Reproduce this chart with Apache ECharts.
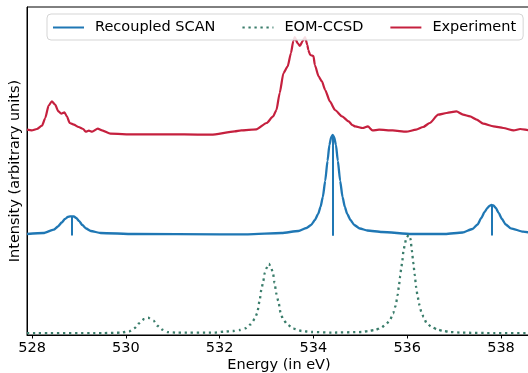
<!DOCTYPE html>
<html>
<head>
<meta charset="utf-8">
<script src="https://cdn.jsdelivr.net/npm/echarts@6/dist/echarts.min.js"></script>
<style>
html,body{margin:0;padding:0;background:#fff;}
#chart{width:528px;height:373px;}
</style>
</head>
<body>
<div id="chart"></div>
<script>
// x tick labels (eV)
var xTicks = [528, 530, 532, 534, 536, 538];

// Experiment (offset spectrum)
var expX = [527.89,527.99,528.10,528.21,528.28,528.35,528.42,528.49,528.56,528.62,528.69,528.74,528.80,528.89,528.99,529.09,529.14,529.21,529.28,529.40,529.49,529.67,530.17,531.24,531.82,532.32,532.46,532.78,533.00,533.14,533.21,533.28,533.36,533.45,533.52,533.57,533.60,533.66,533.71,533.77,533.82,533.87,533.89,533.93,534.00,534.03,534.11,534.18,534.25,534.35,534.46,534.61,534.75,534.83,534.89,535.05,535.16,535.26,535.40,535.69,535.98,536.19,536.34,536.48,536.66,536.84,537.05,537.19,537.34,537.48,537.62,537.84,538.05,538.27,538.41,538.62,538.64];
var expY = [205.3,204.6,206,209.3,217,229.3,233.7,230.3,223.6,221.3,222.6,218.6,212,210.3,208,206,203.3,204.3,203.3,206.3,204.6,201.3,200.6,200.6,200.3,203.6,204.6,205.6,212,218.6,225,242,262,268.6,282,294,298,292,289,294,298,290,285,280,279,270,258.6,253.6,245,233.6,225,218.6,213.6,210,208.6,207,208.6,204.6,205.3,204.6,203.3,205.3,208,212,220.3,222,223.6,220.3,218.6,215.3,211.3,208.6,207,204.6,206,204.6,204.6];

// Recoupled SCAN (broadened, offset)
var scanX = [527.89,528.24,528.46,528.55,528.63,528.70,528.76,528.81,528.85,528.89,528.94,529.00,529.07,529.15,529.25,529.46,530.17,532.00,532.60,533.32,533.68,533.85,533.95,534.03,534.10,534.15,534.20,534.25,534.30,534.34,534.38,534.41,534.44,534.48,534.52,534.57,534.62,534.67,534.72,534.79,534.87,534.99,535.15,535.46,536.10,536.81,537.18,537.39,537.50,537.58,537.65,537.71,537.76,537.80,537.84,537.89,537.95,538.02,538.10,538.21,538.47,538.64];
var scanY = [101,102,105.3,108.5,112.5,116,118,118.6,118.7,118.5,117,114,110,106.5,104,102,101,100.7,100.7,102,104,107,110,115,121,128,138,154,174,190,198,200,198,190,174,154,138,128,121,115,110,106.5,104.5,103,101,101,102.5,106,110.5,117,123,127,129.3,130,129.5,127,122,116,110.5,106.7,103.3,102.3];

// Recoupled SCAN sticks
var stickX = [528.85, 534.41, 537.80];
var stickBase = [99.5, 99.3, 99.5];
var stickTop = [118.7, 200, 130];

// EOM-CCSD (broadened)
var eomX = [527.89,529.50,529.89,530.07,530.19,530.28,530.39,530.47,530.59,530.67,530.78,530.89,531.10,531.89,532.09,532.28,532.43,532.55,532.66,532.75,532.80,532.85,532.89,532.93,532.96,533.00,533.05,533.10,533.14,533.17,533.21,533.25,533.30,533.35,533.45,533.57,533.75,533.96,534.39,535.03,535.17,535.32,535.44,535.55,535.64,535.70,535.75,535.80,535.82,535.85,535.87,535.89,535.92,535.95,535.98,536.03,536.07,536.10,536.13,536.16,536.19,536.22,536.26,536.30,536.35,536.41,536.52,536.65,536.77,536.91,537.16,537.87,538.64];
var eomY = [1.8,1.9,2.3,3.7,7,11.7,16,17.3,14.3,9.3,5.3,2.9,2.3,2.4,3.3,4,5,6.7,10.7,16.3,22,34,45.7,54,62,67,71.3,67,61,52,41,34,22,15.7,10.3,6.3,4,3,2.4,3,4,5,7.3,10.7,15.7,21.7,29,40.7,48,59,66,72,84,91,97,100,96,84,72,60,48,39,30,23,18,12,8,5.3,4,3,2.3,1.9,1.8];

function pairs(xs, ys){ return xs.map(function(x,i){ return [x, ys[i]]; }); }

var blue = '#1f77b4', green = '#3a7d6b', red = '#c5203e';
var font = 'DejaVu Sans';
var fs = 14.5;

var chart = echarts.init(document.getElementById('chart'), null, {renderer:'canvas'});
chart.setOption({
  animation: false,
  backgroundColor: '#fff',
  textStyle: {fontFamily: font},
  grid: {left: 27, right: -3, top: 7, bottom: 38, show: true, borderColor: '#000', borderWidth: 1, containLabel: false, outerBoundsMode: 'none'},
  legend: {
    left: 47, top: 14,
    padding: [6, 7, 5, 5],
    itemGap: 26,
    itemWidth: 31, itemHeight: 14,
    borderColor: '#d5d5d5', borderWidth: 1, borderRadius: 4,
    backgroundColor: 'rgba(255,255,255,0.85)',
    itemStyle: {opacity: 0, borderWidth: 0},
    textStyle: {fontFamily: font, fontSize: fs, color: '#000', padding: [0, 0, 0, 6]},
    data: ['Recoupled SCAN', 'EOM-CCSD', 'Experiment']
  },
  xAxis: {
    type: 'value', min: 527.89, max: 538.64,
    name: 'Energy (in eV)', nameLocation: 'middle', nameGap: 23, nameMoveOverlap: false,
    nameTextStyle: {fontFamily: font, fontSize: fs, color: '#000'},
    axisLine: {show: true, lineStyle: {color: '#000', width: 1}},
    axisTick: {show: true, length: 3.5, inside: false, lineStyle: {color: '#000', width: 1}, customValues: xTicks},
    axisLabel: {fontFamily: font, fontSize: fs, color: '#000', margin: 6, customValues: xTicks},
    splitLine: {show: false}
  },
  yAxis: {
    type: 'value', min: 0, max: 328,
    name: 'Intensity (arbitrary units)', nameLocation: 'middle', nameGap: 4, nameMoveOverlap: false,
    nameTextStyle: {fontFamily: font, fontSize: fs, color: '#000'},
    axisLine: {show: true, lineStyle: {color: '#000', width: 1}},
    axisTick: {show: false}, axisLabel: {show: false}, splitLine: {show: false}
  },
  series: [
    {
      name: 'Recoupled SCAN', type: 'line', data: pairs(scanX, scanY),
      showSymbol: false, symbol: 'none', smooth: 0.2, smoothMonotone: 'x',
      lineStyle: {color: blue, width: 2.3}, itemStyle: {color: blue},
      markLine: {
        silent: true, symbol: ['none', 'none'], label: {show: false},
        lineStyle: {color: blue, width: 2, type: 'solid'},
        data: stickX.map(function(x, i){ return [{coord: [x, stickBase[i]]}, {coord: [x, stickTop[i]]}]; })
      }
    },
    {
      name: 'EOM-CCSD', type: 'line', data: pairs(eomX, eomY),
      showSymbol: false, symbol: 'none', smooth: 0.2, smoothMonotone: 'x',
      lineStyle: {color: green, width: 2.3, type: [2.3, 3.7], cap: 'butt'}, itemStyle: {color: green}
    },
    {
      name: 'Experiment', type: 'line', data: pairs(expX, expY),
      showSymbol: false, symbol: 'none', smooth: 0.2, smoothMonotone: 'x',
      lineStyle: {color: red, width: 2.2}, itemStyle: {color: red}
    }
  ]
});
</script>
</body>
</html>
